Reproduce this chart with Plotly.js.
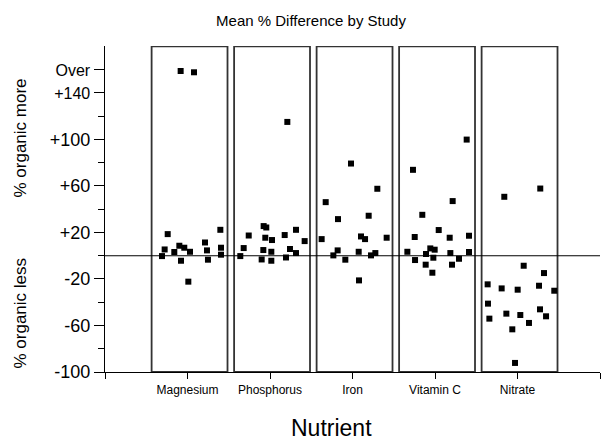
<!DOCTYPE html>
<html><head><meta charset="utf-8">
<script src="https://cdn.plot.ly/plotly-3.0.1.min.js"></script>
<style>html,body{margin:0;padding:0;background:#fff}</style>
</head><body><div id="chart" style="width:601px;height:440px"></div>
<script>
const nutrients = ['Magnesium', 'Phosphorus', 'Iron', 'Vitamin C', 'Nitrate'];

const magnesiumX = [0.760,0.723,0.691,0.840,0.901,0.961,1.030,0.921,1.010,1.212,1.236,1.248,1.398,1.406,1.406,0.917,1.079];
const magnesiumY = [18.6,5.4,-0.3,3.2,8.6,6.9,3.4,-4.3,-22.3,11.4,4.6,-3.4,22.3,6.9,0.9,158.9,157.8];

const phosphorusX = [1.640,1.681,1.742,1.923,1.955,1.943,2.024,1.919,2.016,1.899,2.016,2.178,2.315,2.420,2.242,2.315,2.194,2.210];
const phosphorusY = [-0.3,6.6,17.4,25.5,24.3,15.5,13.5,4.9,3.4,-3.2,-4.3,17.8,22.3,12.6,5.8,2.3,-1.5,115.1];

const ironX = [3.301,2.675,2.824,3.196,2.626,3.103,3.152,3.414,2.820,2.768,2.913,3.075,3.224,3.277,3.079,2.982];
const ironY = [57.6,46.1,31.5,34.4,14.3,16.6,14.3,15.5,4.6,0.3,-3.4,3.4,0.3,2.3,-21.2,79.3];

const vitaminCX = [4.214,3.846,4.045,3.754,4.178,4.412,3.665,3.943,3.996,3.891,4.186,4.412,3.758,3.980,4.291,3.887,4.206,3.968,4.384,3.733];
const vitaminCY = [47.0,35.2,22.1,16.1,15.5,17.2,3.4,6.3,5.2,1.5,2.3,3.2,-3.7,-1.7,-2.6,-7.7,-7.7,-14.6,99.9,73.9];

const nitrateX = [5.075,5.321,4.638,4.808,5.002,5.261,5.446,4.642,5.273,4.865,5.034,5.346,4.659,5.139,4.937,4.970,4.840,5.276];
const nitrateY = [-8.6,-14.9,-24.6,-28.1,-29.2,-25.8,-30.1,-41.2,-46.1,-49.8,-51.0,-52.1,-54.1,-57.8,-63.3,-92.2,50.7,57.8];

const yTickVals = [-100, -60, -20, 20, 60, 100, 140, 160];
const yTickText = ['-100', '-60', '-20', '+20', '+60', '+100',
  "<span style='font-size:16px'>+140</span>", "<span style='font-size:16px'>Over</span>"];
const yMinorVals = [-80, -40, 0, 40, 80, 120];

const seriesX = [magnesiumX, phosphorusX, ironX, vitaminCX, nitrateX];
const seriesY = [magnesiumY, phosphorusY, ironY, vitaminCY, nitrateY];

const FONT = 'Liberation Sans, Arial, Helvetica, sans-serif';

const traces = seriesX.map((xs, i) => ({
  type: 'scatter', mode: 'markers', name: nutrients[i],
  x: xs, y: seriesY[i],
  marker: {symbol: 'square', size: 6, color: '#000'},
  cliponaxis: false, showlegend: false
}));

const shapes = nutrients.map((n, i) => ({
  type: 'rect', xref: 'x', yref: 'y',
  x0: i + 1 - 0.435, x1: i + 1 + 0.485, y0: -100, y1: 180,
  line: {color: '#333', width: 1.8}, fillcolor: 'rgba(0,0,0,0)', layer: 'below'
}));
shapes.push({type: 'line', xref: 'paper', yref: 'y', x0: 0, x1: 1, y0: 0, y1: 0,
  line: {color: '#000', width: 1.2}});

const layout = {
  width: 601, height: 440,
  margin: {l: 105, r: 1, t: 46, b: 68},
  paper_bgcolor: '#fff', plot_bgcolor: '#fff',
  font: {family: FONT, color: '#000'},
  title: {text: 'Mean % Difference by Study', font: {size: 15, family: FONT, color: '#000'},
    x: 311 / 601, xanchor: 'center', xref: 'container', y: 1 - 21 / 440, yanchor: 'middle', yref: 'container'},
  xaxis: {
    range: [0, 6], tickmode: 'array', tickvals: [0, 1, 2, 3, 4, 5, 6],
    ticktext: [''].concat(nutrients, ['']),
    ticks: 'outside', ticklen: 6, tickwidth: 1, tickcolor: '#000',
    showline: true, linecolor: '#000', linewidth: 1.2,
    showgrid: false, zeroline: false,
    tickfont: {size: 12, family: FONT, color: '#000'}
  },
  yaxis: {
    range: [-100, 180.4], tickmode: 'array', tickvals: yTickVals, ticktext: yTickText,
    ticks: 'outside', ticklen: 10, tickwidth: 1, tickcolor: '#000',
    minor: {tickmode: 'array', tickvals: yMinorVals, ticks: 'outside', ticklen: 6, tickcolor: '#000', tickwidth: 1, showgrid: false},
    showline: true, linecolor: '#000', linewidth: 1.2,
    showgrid: false, zeroline: false,
    tickfont: {size: 18, family: FONT, color: '#000'}
  },
  shapes: shapes,
  annotations: [
    {text: '% organic more', xref: 'paper', yref: 'paper', x: (19.5 - 105) / 495, y: (372 - 138) / 326,
      xanchor: 'center', yanchor: 'middle', textangle: -90, showarrow: false,
      font: {size: 17, family: FONT, color: '#000'}},
    {text: '% organic less', xref: 'paper', yref: 'paper', x: (19.5 - 105) / 495, y: (372 - 313) / 326,
      xanchor: 'center', yanchor: 'middle', textangle: -90, showarrow: false,
      font: {size: 17, family: FONT, color: '#000'}},
    {text: 'Nutrient', xref: 'paper', yref: 'paper', x: (331 - 105) / 495, y: (372 - 428) / 326,
      xanchor: 'center', yanchor: 'middle', showarrow: false,
      font: {size: 23, family: FONT, color: '#000'}}
  ]
};

Plotly.newPlot('chart', traces, layout, {displayModeBar: false, staticPlot: true});
</script>
</body></html>
